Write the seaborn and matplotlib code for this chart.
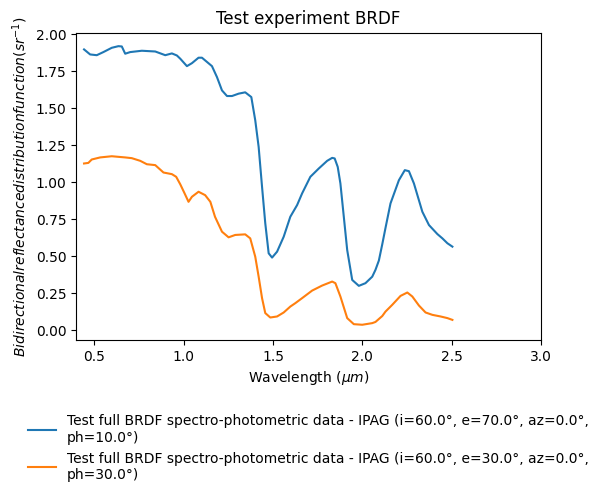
import matplotlib
matplotlib.use("Agg")
import matplotlib.pyplot as plt
import seaborn as sns
import pandas as pd

wl_a = [0.444, 0.478, 0.515, 0.552, 0.599, 0.636, 0.655, 0.674, 0.702, 0.767,
        0.842, 0.898, 0.935, 0.963, 0.982, 1.019, 1.047, 1.084, 1.103, 1.159,
        1.187, 1.215, 1.243, 1.271, 1.308, 1.345, 1.379, 1.401, 1.420, 1.439,
        1.457, 1.476, 1.495, 1.523, 1.560, 1.597, 1.635, 1.663, 1.709, 1.756,
        1.803, 1.831, 1.845, 1.862, 1.877, 1.896, 1.915, 1.943, 1.980, 2.017,
        2.055, 2.073, 2.092, 2.111, 2.129, 2.157, 2.204, 2.237, 2.260, 2.288,
        2.335, 2.372, 2.419, 2.447, 2.475, 2.503]
brdf_a = [1.897, 1.863, 1.858, 1.879, 1.908, 1.919, 1.917, 1.868, 1.879, 1.888,
          1.883, 1.858, 1.870, 1.856, 1.834, 1.784, 1.804, 1.841, 1.841, 1.784,
          1.710, 1.620, 1.582, 1.582, 1.598, 1.607, 1.575, 1.418, 1.238, 0.968,
          0.722, 0.519, 0.490, 0.530, 0.631, 0.766, 0.845, 0.924, 1.036, 1.092,
          1.144, 1.164, 1.160, 1.103, 0.991, 0.766, 0.541, 0.339, 0.299, 0.317,
          0.361, 0.407, 0.470, 0.580, 0.690, 0.856, 1.013, 1.081, 1.074, 0.991,
          0.800, 0.710, 0.649, 0.620, 0.587, 0.564]

wl_b = [0.444, 0.468, 0.487, 0.534, 0.599, 0.636, 0.674, 0.711, 0.758, 0.795,
        0.842, 0.888, 0.935, 0.959, 0.982, 1.006, 1.028, 1.047, 1.084, 1.121,
        1.150, 1.176, 1.215, 1.252, 1.289, 1.345, 1.373, 1.401, 1.420, 1.439,
        1.457, 1.485, 1.523, 1.560, 1.597, 1.625, 1.663, 1.719, 1.775, 1.831,
        1.849, 1.877, 1.915, 1.952, 1.999, 2.055, 2.073, 2.092, 2.111, 2.129,
        2.167, 2.213, 2.251, 2.279, 2.316, 2.353, 2.391, 2.437, 2.475, 2.503]
brdf_b = [1.126, 1.130, 1.153, 1.167, 1.175, 1.171, 1.167, 1.162, 1.144, 1.121,
          1.115, 1.065, 1.054, 1.036, 0.985, 0.924, 0.867, 0.901, 0.935, 0.912,
          0.867, 0.766, 0.665, 0.627, 0.643, 0.647, 0.620, 0.496, 0.361, 0.216,
          0.115, 0.085, 0.092, 0.119, 0.159, 0.182, 0.216, 0.267, 0.301, 0.328,
          0.317, 0.227, 0.081, 0.040, 0.036, 0.047, 0.055, 0.075, 0.095, 0.125,
          0.171, 0.231, 0.254, 0.227, 0.166, 0.119, 0.103, 0.092, 0.081, 0.069]

label_a = "Test full BRDF spectro-photometric data - IPAG (i=60.0°, e=70.0°, az=0.0°,\nph=10.0°)"
label_b = "Test full BRDF spectro-photometric data - IPAG (i=60.0°, e=30.0°, az=0.0°,\nph=30.0°)"

title = "Test experiment BRDF"
xlabel = r"Wavelength ($\mu m$)"
ylabel = r"$Bidirectional reflectance distribution function (sr^{-1})$"

fig = plt.figure(figsize=(6.04, 4.97), dpi=100)
ax = fig.add_axes([76 / 604, 1 - 340 / 497, (541.3 - 76) / 604, (340 - 32.7) / 497])

df_a = pd.DataFrame({"wl": wl_a, "v": brdf_a})
df_b = pd.DataFrame({"wl": wl_b, "v": brdf_b})
sns.lineplot(data=df_a, x="wl", y="v", ax=ax, color="#1f77b4", label=label_a, sort=False)
sns.lineplot(data=df_b, x="wl", y="v", ax=ax, color="#ff7f0e", label=label_b, sort=False)

ax.set_xlim(0.399, 3.0)
ax.set_ylim(-0.067, 2.01)
ax.set_xticks([0.5, 1.0, 1.5, 2.0, 2.5, 3.0])
ax.set_yticks([0.0, 0.25, 0.5, 0.75, 1.0, 1.25, 1.5, 1.75, 2.0])
ax.set_title(title)
ax.set_xlabel(xlabel)
ax.set_ylabel(ylabel)

handles, labels = ax.get_legend_handles_labels()
ax.get_legend().remove()
fig.legend(handles, labels, loc="upper left", bbox_to_anchor=(15.7 / 604, 1 - 402 / 497),
           frameon=False)

fig.savefig("out.png", dpi=100)
